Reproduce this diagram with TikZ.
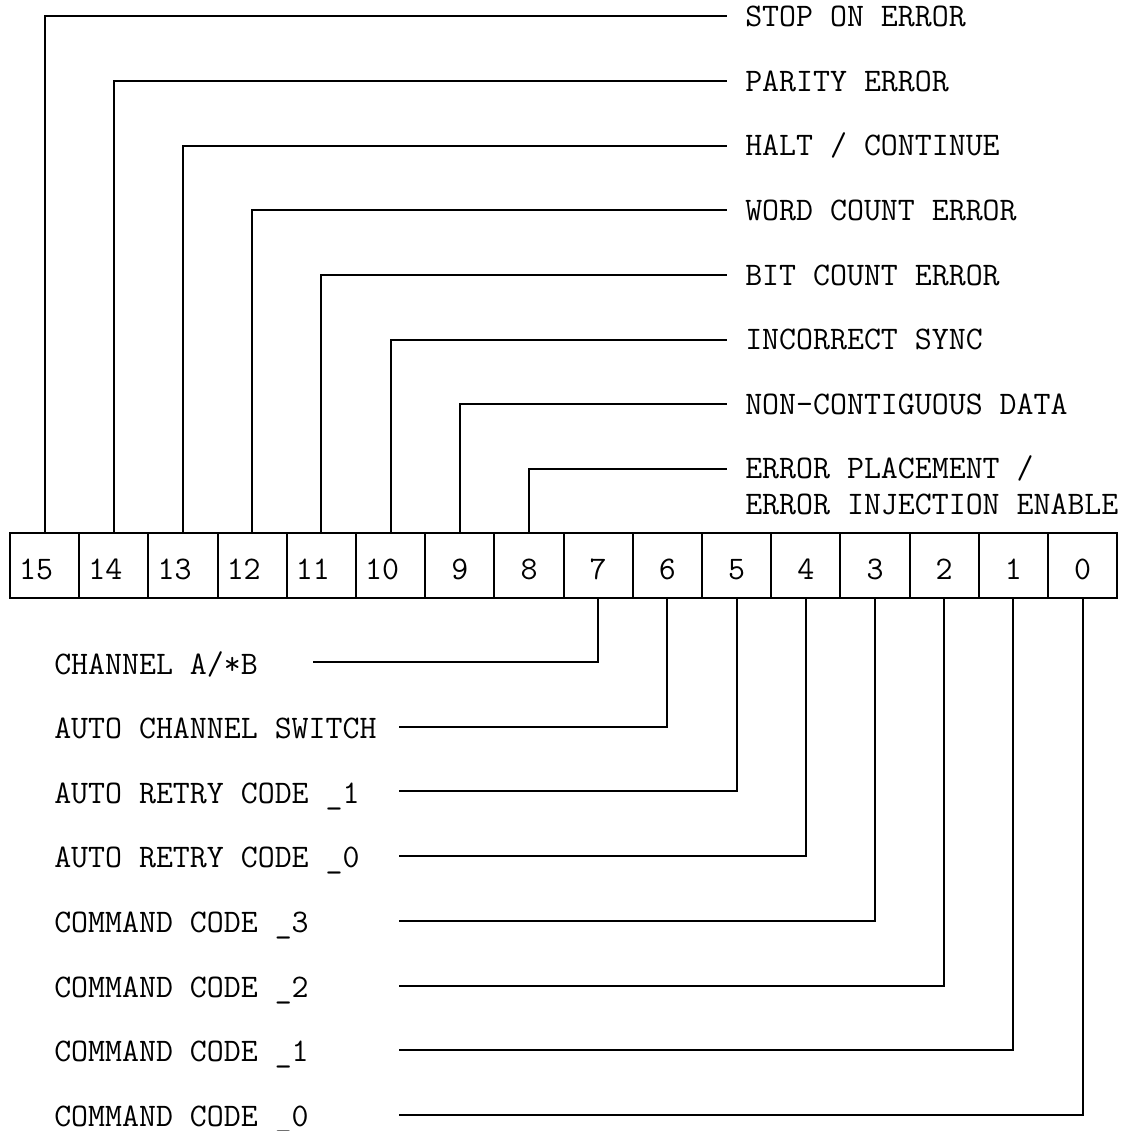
\documentclass[tikz,border=0pt]{standalone}
\usepackage{fontspec}
\begin{document}
\begin{tikzpicture}[x=0.75pt,y=-0.75pt,
  txt/.style={font=\ttfamily\fontsize{24.7}{30}\selectfont, text depth=0pt},
  wire/.style={line width=1.5pt, line join=miter},
  cell/.style={txt, draw, line width=1.5pt, minimum width=51.9pt,
    minimum height=49.1pt, inner sep=0pt, text height=19.9pt},
  toplab/.style={txt, anchor=west, inner ysep=0pt, inner xsep=13.5pt, text height=15.1pt},
  botlab/.style={txt, anchor=west, inner sep=0pt, text height=15.1pt}]
\useasboundingbox (0,0) rectangle (1128,1131);

% register cells, bit 15 at the left
\foreach \b in {0,...,15}{
  \pgfmathsetmacro\cx{10+69.2*(15-\b+0.5)}
  \node[cell] (b\b) at (\cx,565.75) {\ifnum\b>9 \b\phantom{0}\else\b\fi};
}

% upper byte descriptions
\node[toplab] (t15) at (727,16.5)  {STOP ON ERROR};
\node[toplab] (t14) at (727,81)    {PARITY ERROR};
\node[toplab] (t13) at (727,145.5) {HALT / CONTINUE};
\node[toplab] (t12) at (727,210)   {WORD COUNT ERROR};
\node[toplab] (t11) at (727,275)   {BIT COUNT ERROR};
\node[toplab] (t10) at (727,339.5) {INCORRECT SYNC};
\node[toplab] (t9)  at (727,404)   {NON-CONTIGUOUS DATA};
\node[toplab] (t8)  at (727,468.5) {ERROR PLACEMENT /};
\node[toplab] (t8b) at (727,504.5) {ERROR INJECTION ENABLE};

\foreach \b in {15,14,...,8}
  \draw[wire] (b\b.north) |- (t\b.west);

% lower byte descriptions
\node[botlab] (l7) at (54,664)   {CHANNEL A/*B};
\node[botlab] (l6) at (54,728.5) {AUTO CHANNEL SWITCH};
\node[botlab] (l5) at (54,793)   {AUTO RETRY CODE \_1};
\node[botlab] (l4) at (54,857.5) {AUTO RETRY CODE \_0};
\node[botlab] (l3) at (54,922)   {COMMAND CODE \_3};
\node[botlab] (l2) at (54,987)   {COMMAND CODE \_2};
\node[botlab] (l1) at (54,1051.5){COMMAND CODE \_1};
\node[botlab] (l0) at (54,1116)  {COMMAND CODE \_0};

\coordinate (e7) at (313,662);
\coordinate (e6) at (399,726.7);
\coordinate (e5) at (399,791.4);
\coordinate (e4) at (399,856);
\coordinate (e3) at (399,920.8);
\coordinate (e2) at (399,985.5);
\coordinate (e1) at (399,1050.2);
\coordinate (e0) at (399,1115);

\foreach \b in {7,6,...,0}
  \draw[wire] (b\b.south) |- (e\b);
\end{tikzpicture}
\end{document}
